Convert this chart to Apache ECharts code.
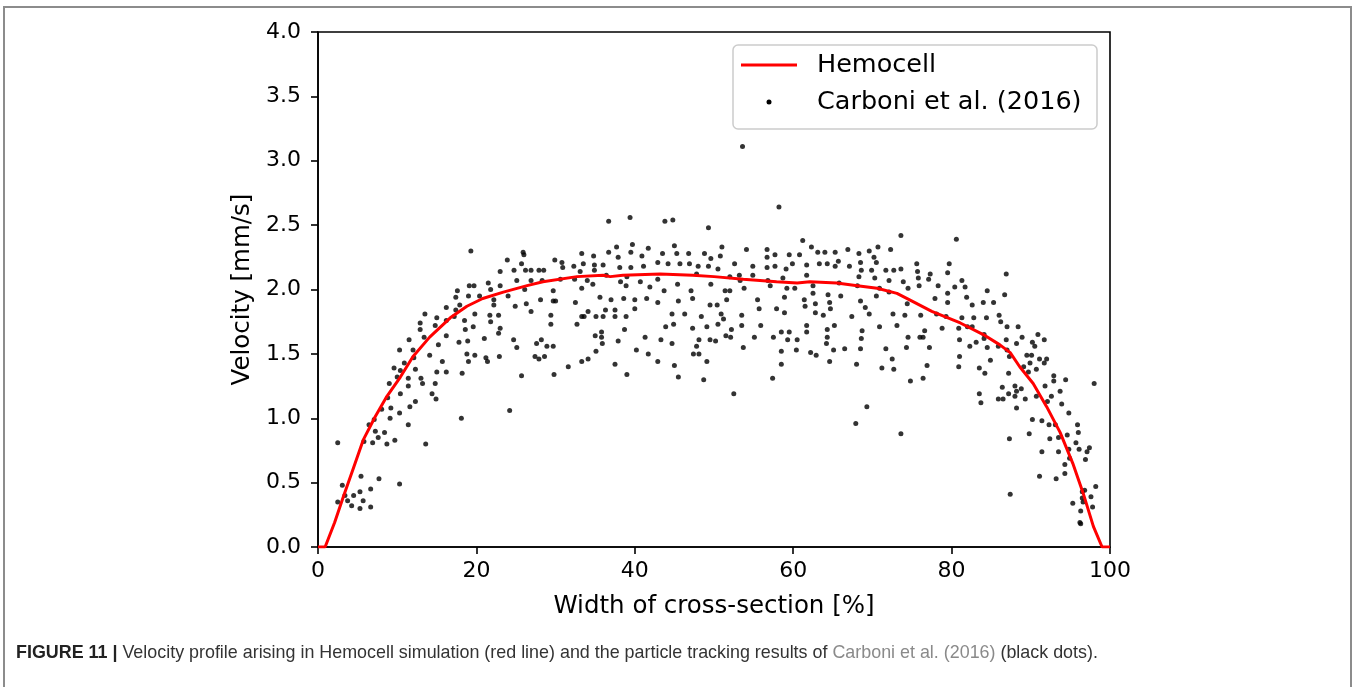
<!DOCTYPE html>
<html>
<head>
<meta charset="utf-8">
<script src="https://cdn.jsdelivr.net/npm/echarts@6/dist/echarts.min.js"></script>
<style>
html,body{margin:0;padding:0;background:#fff;}
#chart{width:1354px;height:687px;}
</style>
</head>
<body>
<div id="chart"></div>
<script>
// ---- Data ----
const xTicks = [0, 20, 40, 60, 80, 100];
const yTicks = [0.0, 0.5, 1.0, 1.5, 2.0, 2.5, 3.0, 3.5, 4.0];

const hemocellX = [0, 0.9, 2.1, 3.2, 4.4, 5.7, 7.2, 8.7, 10.4, 12, 14.1, 16.7, 18.8, 20.8, 23.4, 26.4, 28.4, 32.7, 36, 36.9, 38.5, 43.2, 47.3, 50, 53.7, 57.9, 60.5, 62.1, 65.5, 68.1, 70.6, 73.1, 74.7, 77.5, 81.1, 84, 86.1, 87.4, 88.6, 90.3, 92, 93.7, 95.3, 96.6, 97.9, 99, 100];
const hemocellY = [0, 0, 0.19, 0.39, 0.6, 0.83, 1.01, 1.17, 1.32, 1.48, 1.63, 1.78, 1.87, 1.93, 1.98, 2.03, 2.06, 2.10, 2.11, 2.10, 2.11, 2.12, 2.11, 2.10, 2.08, 2.06, 2.05, 2.06, 2.05, 2.03, 2.01, 1.97, 1.92, 1.83, 1.74, 1.65, 1.57, 1.51, 1.40, 1.27, 1.09, 0.89, 0.65, 0.42, 0.16, 0, 0];

const carboniPoints = [
[2.49,0.81],[3.07,0.48],[2.49,0.35],[3.4,0.40],[3.74,0.36],[4.25,0.32],[4.5,0.40],[5.3,0.43],[5.43,0.55],[5.7,0.36],
[5.3,0.30],[6.65,0.45],[6.65,0.31],[7.7,0.53],[10.3,0.49],[5.8,0.82],[6.44,0.95],[6.9,0.81],[7.24,0.90],[7.1,0.99],
[7.6,0.85],[8.4,0.89],[8.7,0.80],[9.7,0.83],[8.04,1.07],[8.8,1.16],[9.1,1.00],[9.2,1.08],[9.0,1.27],[9.6,1.39],
[10.0,1.32],[10.3,1.04],[10.4,1.19],[10.3,1.53],[10.4,1.37],[10.9,1.43],[11.4,1.31],[11.4,1.25],[11.5,1.61],[12.0,1.53],
[12.1,1.47],[12.3,1.38],[11.6,1.09],[11.4,0.95],[12.3,1.13],[12.9,1.74],[12.9,1.69],[13.5,1.81],[13.4,1.63],[13.0,1.31],
[13.2,1.27],[13.6,0.80],[14.1,1.49],[14.4,1.19],[14.9,1.15],[14.8,1.27],[15.0,1.36],[15.0,1.78],[14.8,1.72],[15.2,1.57],
[15.7,1.44],[16.2,1.86],[16.2,1.76],[16.2,1.64],[16.2,1.36],[17.2,1.79],[17.4,1.84],[17.4,1.94],[17.6,1.99],[17.8,1.59],
[17.9,1.88],[18.2,1.35],[18.1,1.00],[18.5,1.76],[18.6,1.69],[18.9,1.60],[18.8,1.50],[19.0,1.44],[19.0,1.95],[19.1,2.03],
[19.7,2.03],[19.6,1.71],[19.8,1.81],[19.8,1.49],[20.4,1.95],[21.0,1.62],[21.2,1.47],[21.4,1.44],[21.5,2.05],[21.8,2.00],
[21.7,1.80],[21.8,1.75],[22.2,1.92],[22.2,1.88],[22.8,1.80],[22.8,1.66],[23.0,1.70],[23.0,2.03],[23.0,2.14],[22.9,1.48],
[24.0,1.95],[19.3,2.30],[23.9,2.23],
[24.2,1.06],[24.75,2.15],[25.1,2.07],[24.9,1.87],[24.7,1.61],[25.1,1.55],[25.7,1.33],[25.7,2.20],[25.9,2.29],[26.0,2.27],
[26.2,2.15],[26.9,2.15],[26.9,2.07],[26.1,2.00],[26.3,1.89],[26.9,1.83],[27.4,1.48],[27.9,1.46],[27.6,1.58],[28.2,1.61],
[28.6,1.48],[28.9,1.56],[27.9,2.15],[28.5,2.15],[28.3,2.07],[28.1,1.92],[29.7,1.56],[29.8,1.34],[29.4,1.80],[29.4,1.73],
[29.7,1.91],[30.0,1.91],[29.7,1.99],[29.9,2.23],[30.8,2.21],[30.9,2.17],[30.6,2.08],[31.6,1.40],[32.3,2.18],[32.4,2.08],
[32.5,1.90],[32.7,1.73],[33.1,2.14],[33.3,2.28],[33.5,2.20],[33.3,2.01],[33.3,1.79],[33.6,1.79],[34.1,1.83],[34.0,2.07],
[33.3,1.44],[34.1,1.46],[34.7,2.04],[34.8,2.26],[34.9,2.19],[34.9,2.15],[35.1,1.79],[35.0,1.64],[35.1,1.52],[35.8,1.67],
[35.8,1.63],[35.9,1.58],[35.6,1.94],[36.0,1.79],[36.0,2.19],[36.3,1.84],[36.4,2.11],[36.7,2.53],[36.7,2.29],[37.0,1.92],
[37.5,1.84],[37.5,1.79],[37.5,1.42],[37.7,2.33],[37.9,2.25],[37.9,1.60],[38.1,2.17],[38.2,2.06],[38.7,1.69],[38.6,1.93],
[38.9,1.79],[38.9,2.03],[39.0,1.34],[39.0,2.10],[39.4,2.56],[39.5,2.29],[39.7,2.35],[39.5,2.17],[40.0,1.85],[40.0,1.92],
[40.2,1.53],[40.7,2.06],[40.9,2.26],[41.1,2.18],[41.3,1.63],[41.5,1.93],[41.7,1.50],[41.7,2.32],[41.9,2.02],[42.9,2.21],
[42.9,2.08],[42.9,1.90],[42.9,1.44],[43.3,1.61],[43.5,2.28],[43.7,1.99],[43.8,2.53],[43.9,1.71],[44.2,2.20],[44.7,1.81],
[44.7,1.58],[44.8,2.54],[45.0,2.34],[44.9,1.73],[45.0,1.41],[45.3,2.28],[45.4,2.04],[45.5,1.91],[45.5,1.32],[45.7,2.20],
[46.3,1.81],[46.8,2.28],[46.9,2.20],[47.1,1.99],[47.3,1.93],[47.3,1.70],[47.4,1.50],[47.8,1.56],[47.8,2.12],[48.0,2.18],
[48.1,1.61],[48.1,1.50],[48.4,1.79],[48.8,2.28],[48.7,1.30],[49.1,1.71],[49.1,1.44],[49.3,2.48],[49.3,2.18],[49.5,1.88],
[49.6,2.24],[49.6,2.04],[49.5,1.61],[50.2,1.60],[50.4,1.88],[50.5,1.73],[50.5,2.16],[50.8,2.26],[51.0,2.33],[51.4,1.99],
[50.9,1.81],[51.2,1.77],[51.5,1.64],[51.6,1.92],[52.0,1.99],[52.0,2.10],
[53.6,3.11],[58.2,2.64],[52.5,1.19],[52.1,1.63],[52.2,1.69],[52.6,2.20],[53.2,2.11],[53.3,2.07],[53.8,2.01],[53.5,1.80],
[53.5,1.72],[53.7,1.55],[54.1,2.31],[54.9,2.18],[54.9,2.11],[55.1,1.63],[55.5,1.92],[55.7,1.85],[55.9,1.72],[56.7,2.31],
[56.7,2.25],[56.7,2.17],[56.8,2.07],[57.1,2.03],[57.4,1.31],[57.5,1.63],[57.7,2.27],[57.7,2.18],[57.9,1.85],[58.5,1.67],
[58.5,1.52],[58.5,1.42],[58.7,2.09],[58.9,1.94],[58.9,1.82],[59.1,2.16],[59.2,2.01],[59.3,1.61],[59.5,1.67],[59.5,2.27],
[59.9,2.20],[60.2,2.01],[60.4,1.53],[60.5,1.61],[60.8,2.27],[61.2,2.38],[61.4,1.92],[61.5,1.87],[61.7,2.19],[61.7,2.11],
[61.7,1.72],[61.7,1.67],[62.2,1.51],[62.3,2.33],[62.5,1.97],[62.5,2.03],[62.8,1.89],[62.8,1.82],[62.9,1.49],[63.1,2.29],
[63.3,2.20],[63.8,1.80],[64.0,2.29],[64.3,2.20],[64.3,1.69],[64.3,1.63],[64.2,1.58],[64.4,1.96],[64.6,1.90],[64.7,1.85],
[64.6,1.44],[65.2,1.72],[65.1,1.53],[65.3,2.18],[65.3,2.29],[65.7,2.22],[65.8,2.05],[66.0,1.95],[66.5,1.54],[66.9,2.31],
[67.1,2.18],[67.4,1.79],[67.9,0.96],[68.0,1.42],[68.1,2.03],[68.3,2.28],[68.3,2.10],[68.5,2.21],[68.5,1.91],[68.6,2.15],
[68.7,1.68],[68.6,1.62],[68.5,1.54],[69.1,1.86],[69.3,1.09],[69.6,1.81],[69.6,2.30],[69.9,2.15],[70.2,2.25],[70.5,2.21],
[70.5,1.95],[70.3,2.09],[70.7,2.33],[70.9,1.71],[70.9,2.01],[71.2,1.39],[71.7,2.15],[71.7,1.54],[72.1,2.07],[72.1,1.98],
[72.3,2.31],[72.5,1.46],[72.6,1.81],[72.7,1.38],[72.7,2.15],[73.1,1.72],[73.6,2.42],[73.6,2.16],[73.6,0.88],[73.9,2.06],
[74.1,1.80],[74.3,1.55],[74.4,1.89],[74.5,1.63],[74.5,2.01],[74.8,1.29],[75.6,2.20],[75.7,2.14],[75.8,2.09],[75.9,2.03],
[76.1,1.80],[76.0,1.63],[76.4,1.63],[76.6,1.68],[76.4,1.31],[76.9,1.41],[77.1,2.08],[77.3,2.12],[77.2,1.55],
[77.9,1.93],[78.1,1.81],[78.3,2.03],[78.8,1.70],[79.3,1.79],[79.5,2.13],[79.5,1.97],[79.7,2.20],[79.5,1.90],[80.4,2.02],
[80.6,2.39],[80.9,1.70],[81.0,1.61],[81.0,1.48],[80.9,1.40],[81.3,1.78],[81.3,2.07],[81.7,2.02],[81.9,1.94],[82.0,1.71],
[82.3,1.56],[82.6,1.88],[82.6,1.71],[82.8,1.78],[83.1,1.59],[83.5,1.39],[83.5,1.19],[83.7,1.12],[84.0,1.90],[84.1,1.65],
[84.1,1.62],[84.2,1.35],[84.4,1.78],[84.5,1.99],[84.5,1.55],[84.9,1.45],[85.3,1.90],[85.9,1.56],[85.9,1.15],[86.0,1.80],
[86.2,1.75],[86.4,1.24],[86.5,1.15],[86.7,1.96],[86.9,2.12],[86.9,1.61],[87.0,1.71],[87.0,1.53],[87.2,1.35],[87.2,1.19],
[87.3,0.84],[87.3,1.48],[87.4,0.41],[88.0,1.25],[88.0,1.17],[88.2,1.21],[88.2,1.08],[88.2,1.58],[88.4,1.71],[88.8,1.23],
[88.9,1.63],[89.1,1.40],[89.3,1.15],[89.5,1.49],[89.7,1.36],[89.9,1.43],[89.8,0.88],[90.1,1.49],[90.2,1.59],[90.2,0.99],
[90.5,1.56],[90.7,1.38],[90.7,1.17],[90.9,1.65],[91.1,1.46],[91.1,0.55],[91.4,0.74],[91.4,0.98],[91.7,1.61],[91.7,1.43],
[91.8,1.25],[92.0,1.46],[92.1,1.13],[92.3,0.95],[92.4,0.84],[92.6,1.17],[92.9,1.33],[92.9,1.29],[93.1,0.95],[93.2,0.53],
[93.5,0.74],[93.5,0.85],[93.7,1.21],[93.9,1.11],[94.3,0.64],[94.3,0.57],[94.4,1.30],[94.6,0.87],[94.8,0.76],[94.8,1.04],
[94.9,0.69],[95.3,0.34],[95.7,0.81],[95.9,0.95],[96.0,0.89],[96.2,0.19],[96.3,0.18],[96.1,0.76],[96.3,0.28],[96.5,0.43],
[96.5,0.38],[96.6,0.35],[96.8,0.44],[96.9,0.68],[97.1,0.74],[97.4,0.77],[97.6,0.39],[97.8,0.31],[98.0,1.27],[98.2,0.47]
];

const seriesNames = ['Hemocell', 'Carboni et al. (2016)'];
const xAxisTitle = 'Width of cross-section [%]';
const yAxisTitle = 'Velocity [mm/s]';
const captionLabel = 'FIGURE 11 |';
const captionText1 = ' Velocity profile arising in Hemocell simulation (red line) and the particle tracking results of ';
const captionLink = 'Carboni et al. (2016)';
const captionText2 = ' (black dots).';

// ---- Chart ----
const chart = echarts.init(document.getElementById('chart'), null, {renderer: 'canvas'});
const FONT = 'DejaVu Sans';
const hemocellData = hemocellX.map((x, i) => [x, hemocellY[i]]);

const option = {
  animation: false,
  backgroundColor: '#ffffff',
  grid: {
    left: 318, top: 32, right: 244, bottom: 140,
    show: true, borderColor: '#000', borderWidth: 1.6, backgroundColor: 'transparent'
  },
  xAxis: {
    type: 'value', min: 0, max: 100, interval: 20,
    name: xAxisTitle, nameLocation: 'middle', nameGap: 47,
    nameTextStyle: {fontFamily: FONT, fontSize: 24.5, color: '#000'},
    axisLine: {show: true, onZero: false, lineStyle: {color: '#000', width: 1.6}},
    axisTick: {show: true, length: 7, lineStyle: {color: '#000', width: 1.6}},
    axisLabel: {fontFamily: FONT, fontSize: 22, color: '#000', margin: 13},
    splitLine: {show: false}
  },
  yAxis: {
    type: 'value', min: 0, max: 4, interval: 0.5,
    name: yAxisTitle, nameLocation: 'middle', nameGap: 63, nameRotate: 90,
    nameTextStyle: {fontFamily: FONT, fontSize: 24.5, color: '#000'},
    axisLine: {show: true, onZero: false, lineStyle: {color: '#000', width: 1.6}},
    axisTick: {show: true, length: 7, lineStyle: {color: '#000', width: 1.6}},
    axisLabel: {fontFamily: FONT, fontSize: 22, color: '#000', margin: 17,
      formatter: v => v.toFixed(1)},
    splitLine: {show: false}
  },
  series: [
    {
      name: seriesNames[1], type: 'scatter', data: carboniPoints,
      symbol: 'circle', symbolSize: 5,
      itemStyle: {color: '#000'}, z: 2
    },
    {
      name: seriesNames[0], type: 'line', data: hemocellData,
      showSymbol: false, symbol: 'none',
      lineStyle: {color: '#ff0000', width: 3}, z: 3
    }
  ],
  graphic: [
    {type: 'rect', shape: {x: 4, y: 7, width: 1347, height: 720}, style: {fill: 'none', stroke: '#8c8c8c', lineWidth: 2}, silent: true},
    {type: 'rect', shape: {x: 733, y: 45, width: 364, height: 84, r: 5}, style: {fill: 'rgba(255,255,255,0.85)', stroke: '#cccccc', lineWidth: 1.5}, z: 10},
    {type: 'line', shape: {x1: 741, y1: 65, x2: 797, y2: 65}, style: {stroke: '#ff0000', lineWidth: 3}, z: 11},
    {type: 'text', x: 817, y: 65, style: {text: seriesNames[0], font: '25.5px "DejaVu Sans"', fill: '#000', verticalAlign: 'middle', align: 'left'}, z: 11},
    {type: 'circle', shape: {cx: 769, cy: 102, r: 2.5}, style: {fill: '#000'}, z: 11},
    {type: 'text', x: 817, y: 102, style: {text: seriesNames[1], font: '25.5px "DejaVu Sans"', fill: '#000', verticalAlign: 'middle', align: 'left'}, z: 11},
    {type: 'text', x: 16, y: 653, z: 11,
      style: {
        text: '{b|' + captionLabel + '}{n|' + captionText1 + '}{l|' + captionLink + '}{n|' + captionText2 + '}',
        verticalAlign: 'middle', align: 'left',
        rich: {
          b: {fontFamily: 'Liberation Sans', fontWeight: 'bold', fontSize: 17.9, fill: '#222', color: '#222'},
          n: {fontFamily: 'Liberation Sans', fontSize: 17.9, fill: '#333', color: '#333'},
          l: {fontFamily: 'Liberation Sans', fontSize: 17.9, fill: '#8a8a8a', color: '#8a8a8a'}
        }
      }
    }
  ]
};
chart.setOption(option);
</script>
</body>
</html>
